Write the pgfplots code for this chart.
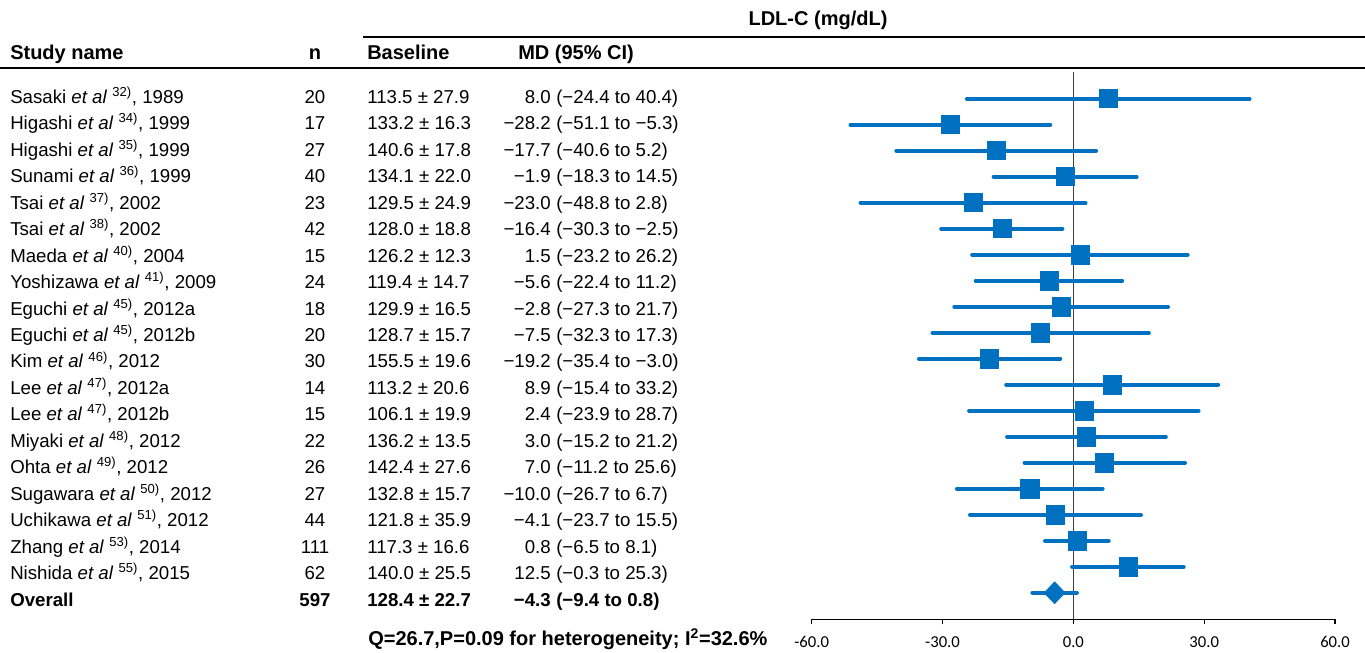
\documentclass[border=0pt]{standalone}
\usepackage{fontspec}
\setmainfont{Liberation Sans}
\newfontfamily\carlito{Carlito}
\usepackage{pgfplots}
\usepackage{pgfplotstable}
\pgfplotsset{compat=1.18}
\definecolor{blu}{RGB}{0,112,192}
\definecolor{zl}{RGB}{64,64,64}

\pgfplotstableread{
y mean lo hi
-1 8.0 -24.4 40.4
-2 -28.2 -51.1 -5.3
-3 -17.7 -40.6 5.2
-4 -1.9 -18.3 14.5
-5 -23.0 -48.8 2.8
-6 -16.4 -30.3 -2.5
-7 1.5 -23.2 26.2
-8 -5.6 -22.4 11.2
-9 -2.8 -27.3 21.7
-10 -7.5 -32.3 17.3
-11 -19.2 -35.4 -3.0
-12 8.9 -15.4 33.2
-13 2.4 -23.9 28.7
-14 3.0 -15.2 21.2
-15 7.0 -11.2 25.6
-16 -10.0 -26.7 6.7
-17 -4.1 -23.7 15.5
-18 0.8 -6.5 8.1
-19 12.5 -0.3 25.3
}\studies

\pgfplotstableread{
y mean lo hi
-20 -4.3 -9.4 0.8
}\overall

\newcommand\trow[6]{%
  \pgfmathsetmacro\yy{103.5+(#1-1)*26.45}%
  \node[anchor=base west] at (10,\yy) {#2};
  \node[anchor=base] at (315,\yy) {#3};
  \node[anchor=base west] at (367,\yy) {#4};
  \node[anchor=base east] at (551,\yy) {#5};
  \node[anchor=base west] at (556,\yy) {#6};
}
\newcommand\ea{\textit{et al}}
\newcommand\hd{\fontsize{15}{17}\selectfont\bfseries}

\begin{document}
\begin{tikzpicture}
\begin{axis}[
  at={(608.775pt,-464.475pt)}, anchor=south west,
  scale only axis, width=392.5pt, height=410.5pt,
  xmin=-60, xmax=60, ymin=-21.02, ymax=0.027,
  axis x line=bottom, axis y line=none,
  x axis line style={-, line width=1pt, black},
  xtick={-60,-30,0,30,60},
  xticklabels={-60.0,-30.0,0.0,30.0,60.0},
  ytick=\empty,
  tick align=outside, major tick length=3.75pt,
  tick style={black, line width=1pt},
  xticklabel style={font=\carlito\fontsize{12.5}{14}\selectfont, yshift=-5.5pt},
  clip=false,
]
\addplot[draw=zl, line width=1.1pt] coordinates {(0,0.027) (0,-21.02)};
\addplot[only marks, mark=square*, mark size=6.8pt, color=blu,
  mark options={draw=none, fill=blu},
  error bars/.cd, x dir=both, x explicit, error mark=none,
  error bar style={line width=3pt, line cap=round, blu}]
  table[x=mean, y=y, x error plus expr=\thisrow{hi}-\thisrow{mean},
        x error minus expr=\thisrow{mean}-\thisrow{lo}] {\studies};
\addplot[only marks, mark=diamond*, mark size=8.25pt, color=blu,
  mark options={draw=none, fill=blu, xscale=1.27},
  error bars/.cd, x dir=both, x explicit, error mark=none,
  error bar style={line width=3pt, line cap=round, blu}]
  table[x=mean, y=y, x error plus expr=\thisrow{hi}-\thisrow{mean},
        x error minus expr=\thisrow{mean}-\thisrow{lo}] {\overall};
\end{axis}

\begin{scope}[x=0.75pt, y=-0.75pt, every node/.style={inner sep=0pt, font=\fontsize{14}{16}\selectfont}]
\useasboundingbox (0,0) rectangle (1365,650);
\node[anchor=base, font=\hd] at (818,25.5) {LDL-C (mg/dL)};
\draw[line width=2pt] (363,37) -- (1365,37);
\node[anchor=base west, font=\hd] at (10,59.5) {Study name};
\node[anchor=base, font=\hd] at (315,59.5) {n};
\node[anchor=base west, font=\hd] at (367,59.5) {Baseline};
\node[anchor=base west, font=\hd] at (518,59.5) {MD (95\% CI)};
\draw[line width=2pt] (0,68) -- (1365,68);

\trow{1}{Sasaki \ea{} \textsuperscript{32)}, 1989}{20}{113.5 ± 27.9}{8.0}{(−24.4 to 40.4)}
\trow{2}{Higashi \ea{} \textsuperscript{34)}, 1999}{17}{133.2 ± 16.3}{−28.2}{(−51.1 to −5.3)}
\trow{3}{Higashi \ea{} \textsuperscript{35)}, 1999}{27}{140.6 ± 17.8}{−17.7}{(−40.6 to 5.2)}
\trow{4}{Sunami \ea{} \textsuperscript{36)}, 1999}{40}{134.1 ± 22.0}{−1.9}{(−18.3 to 14.5)}
\trow{5}{Tsai \ea{} \textsuperscript{37)}, 2002}{23}{129.5 ± 24.9}{−23.0}{(−48.8 to 2.8)}
\trow{6}{Tsai \ea{} \textsuperscript{38)}, 2002}{42}{128.0 ± 18.8}{−16.4}{(−30.3 to −2.5)}
\trow{7}{Maeda \ea{} \textsuperscript{40)}, 2004}{15}{126.2 ± 12.3}{1.5}{(−23.2 to 26.2)}
\trow{8}{Yoshizawa \ea{} \textsuperscript{41)}, 2009}{24}{119.4 ± 14.7}{−5.6}{(−22.4 to 11.2)}
\trow{9}{Eguchi \ea{} \textsuperscript{45)}, 2012a}{18}{129.9 ± 16.5}{−2.8}{(−27.3 to 21.7)}
\trow{10}{Eguchi \ea{} \textsuperscript{45)}, 2012b}{20}{128.7 ± 15.7}{−7.5}{(−32.3 to 17.3)}
\trow{11}{Kim \ea{} \textsuperscript{46)}, 2012}{30}{155.5 ± 19.6}{−19.2}{(−35.4 to −3.0)}
\trow{12}{Lee \ea{} \textsuperscript{47)}, 2012a}{14}{113.2 ± 20.6}{8.9}{(−15.4 to 33.2)}
\trow{13}{Lee \ea{} \textsuperscript{47)}, 2012b}{15}{106.1 ± 19.9}{2.4}{(−23.9 to 28.7)}
\trow{14}{Miyaki \ea{} \textsuperscript{48)}, 2012}{22}{136.2 ± 13.5}{3.0}{(−15.2 to 21.2)}
\trow{15}{Ohta \ea{} \textsuperscript{49)}, 2012}{26}{142.4 ± 27.6}{7.0}{(−11.2 to 25.6)}
\trow{16}{Sugawara \ea{} \textsuperscript{50)}, 2012}{27}{132.8 ± 15.7}{−10.0}{(−26.7 to 6.7)}
\trow{17}{Uchikawa \ea{} \textsuperscript{51)}, 2012}{44}{121.8 ± 35.9}{−4.1}{(−23.7 to 15.5)}
\trow{18}{Zhang \ea{} \textsuperscript{53)}, 2014}{111}{117.3 ± 16.6}{0.8}{(−6.5 to 8.1)}
\trow{19}{Nishida \ea{} \textsuperscript{55)}, 2015}{62}{140.0 ± 25.5}{12.5}{(−0.3 to 25.3)}
\trow{20}{\bfseries Overall}{\bfseries 597}{\bfseries 128.4 ± 22.7}{\bfseries −4.3}{\bfseries (−9.4 to 0.8)}
\node[anchor=base west, font=\hd] at (368,645) {Q=26.7,P=0.09 for heterogeneity; I\textsuperscript{2}=32.6\%};
\end{scope}
\end{tikzpicture}
\end{document}
